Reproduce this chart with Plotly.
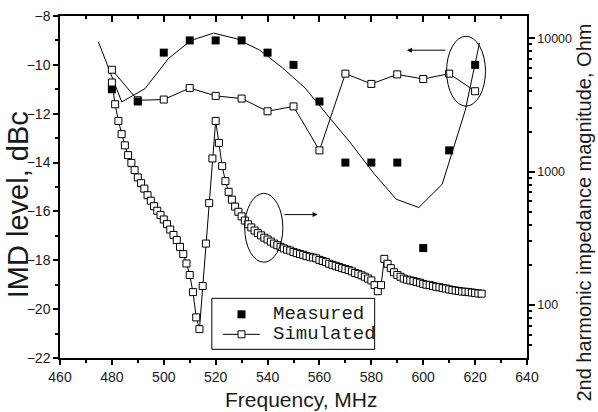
import plotly.graph_objects as go

# ---- data ----
freq_imd = [480, 490, 500, 510, 520, 530, 540, 550, 560, 570, 580, 590, 600, 610, 620]
measured = [-11, -11.5, -9.5, -9, -9, -9, -9.5, -10, -11.5, -14, -14, -14, -17.5, -13.5, -10]
simulated = [-10.2, -11.45, -11.42, -10.95, -11.27, -11.38, -11.9, -11.7, -13.5,
             -10.36, -10.78, -10.39, -10.58, -10.36, -11.08]

curve_freq = [474.8, 483.8, 492.8, 501.8, 510.5, 519.2, 528, 537, 545.5, 554.5,
              563, 572, 581, 589.6, 598.3, 607.3, 616.2, 621.7]
curve_val = [-9.06, -11.52, -10.97, -9.74, -9.0, -8.70, -8.93, -9.40, -10.1, -10.95,
             -12.05, -13.2, -14.45, -15.5, -15.84, -14.89, -11.86, -9.1]

imp_freq = [480, 481.25, 482.5, 483.75, 485, 486.25, 487.5, 488.75, 490, 491.25,
            492.5, 493.75, 495, 496.25, 497.5, 498.75, 500, 501.25, 502.5, 503.75,
            505, 506.25, 507.5, 508.75, 510, 511.25, 512.5, 513.75, 515, 516.25,
            517.5, 518.75, 520, 521.25, 522.5, 523.75, 525, 526.25, 527.5, 528.75,
            530, 531.25, 532.5, 533.75, 535, 536.25, 537.5, 538.75, 540, 541.25,
            542.5, 543.75, 545, 546.25, 547.5, 548.75, 550, 551.25, 552.5, 553.75,
            555, 556.25, 557.5, 558.75, 560, 561.25, 562.5, 563.75, 565, 566.25,
            567.5, 568.75, 570, 571.25, 572.5, 573.75, 575, 576.25, 577.5, 578.75,
            580, 581.25, 582.5, 583.75, 585, 586.25, 587.5, 588.75, 590, 591.25,
            592.5, 593.75, 595, 596.25, 597.5, 598.75, 600, 601.25, 602.5, 603.75,
            605, 606.25, 607.5, 608.75, 610, 611.25, 612.5, 613.75, 615, 616.25,
            617.5, 618.75, 620, 621.25, 622.5]
imp_val = [4660, 3200, 2400, 1910, 1575, 1330, 1164, 1027, 905, 820,
           746, 666, 606, 551, 509, 473, 438, 404, 368, 335,
           307, 273, 241, 205, 168, 125, 80.8, 66, 139, 289,
           581, 1256, 2400, 1643, 1100, 849, 706, 617, 547, 500,
           462, 430, 403, 382, 362, 346, 333, 320, 310, 299,
           289, 281, 273, 266, 260, 256, 250, 245, 241, 238,
           233, 230, 227, 224, 218, 214, 210, 204, 200, 197,
           193, 189, 186, 183, 179, 174, 171, 167, 163, 158,
           153, 141, 127, 141, 222, 204, 189, 176, 168, 163,
           158, 155, 153, 151, 149, 147, 144, 142, 141, 139,
           137, 136, 134, 133, 131, 129.5, 128.5, 127.4, 126.3, 125.8,
           125, 124.1, 123.2, 122.1, 121.7]

x_ticks = [460, 480, 500, 520, 540, 560, 580, 600, 620, 640]
y_ticks = [-22, -20, -18, -16, -14, -12, -10, -8]
y2_ticks = [100, 1000, 10000]
y2_ticktext = ["100", "1000", "10000"]
y2_minor = [50, 60, 70, 80, 90, 200, 300, 400, 500, 600, 700, 800, 900,
            2000, 3000, 4000, 5000, 6000, 7000, 8000, 9000]

INK = "#1a1a1a"
SANS = "Liberation Sans, Arial, sans-serif"
MONO = "Liberation Mono, Courier New, monospace"

fig = go.Figure()

fig.add_trace(go.Scatter(x=curve_freq, y=curve_val, mode="lines",
                         line=dict(color="black", width=1), showlegend=False,
                         hoverinfo="skip"))
fig.add_trace(go.Scatter(x=freq_imd, y=simulated, mode="lines+markers", name="Simulated",
                         line=dict(color="black", width=1),
                         marker=dict(symbol="square", size=7, color="white",
                                     line=dict(color="black", width=1)),
                         showlegend=False))
fig.add_trace(go.Scatter(x=freq_imd, y=measured, mode="markers", name="Measured",
                         marker=dict(symbol="square", size=8, color="black"),
                         showlegend=False))
fig.add_trace(go.Scatter(x=imp_freq, y=imp_val, mode="lines+markers", yaxis="y2",
                         name="Impedance",
                         line=dict(color="black", width=1),
                         marker=dict(symbol="square", size=7, color="white",
                                     line=dict(color="black", width=1)),
                         showlegend=False))
# helper trace so the top mirrored axis is drawn
fig.add_trace(go.Scatter(x=[None], y=[None], xaxis="x2", yaxis="y",
                         showlegend=False, hoverinfo="skip"))

axis_common = dict(showgrid=False, zeroline=False, showline=True, linecolor="black",
                   linewidth=1.5, tickcolor="black", tickwidth=1.5, automargin=False,
                   tickfont=dict(family=SANS, size=14, color=INK))

fig.update_layout(
    template="none",
    width=598, height=412,
    margin=dict(l=60, r=71, t=16, b=54, pad=0),
    paper_bgcolor="white", plot_bgcolor="white",
    showlegend=False,
    xaxis=dict(range=[460, 640], tickmode="array", tickvals=x_ticks,
               ticks="outside", ticklen=5,
               minor=dict(ticks="outside", ticklen=3, dtick=10, tick0=460,
                          tickcolor="black", tickwidth=1.5),
               **axis_common),
    xaxis2=dict(range=[460, 640], overlaying="x", side="top", anchor="y",
                tickmode="array", tickvals=x_ticks, ticks="inside", ticklen=6,
                minor=dict(ticks="inside", ticklen=3, dtick=10, tick0=460,
                           tickcolor="black", tickwidth=1.5),
                showticklabels=False, **axis_common),
    yaxis=dict(range=[-22, -8], tickmode="array", tickvals=y_ticks,
               ticks="outside", ticklen=5,
               minor=dict(ticks="outside", ticklen=3, dtick=1, tick0=-22,
                          tickcolor="black", tickwidth=1.5),
               **axis_common),
    yaxis2=dict(type="log", range=[1.603, 4.167], overlaying="y", side="right",
                anchor="x", tickmode="array", tickvals=y2_ticks, ticktext=y2_ticktext,
                ticks="outside", ticklen=6,
                minor=dict(ticks="outside", ticklen=3, tickmode="array", tickvals=y2_minor,
                           tickcolor="black", tickwidth=1.5),
                showgrid=False, zeroline=False, showline=True, linecolor="black",
                linewidth=1.5, tickcolor="black", tickwidth=1.5, automargin=False,
                tickfont=dict(family=SANS, size=12.5, color=INK)),
)

# axis titles
fig.add_annotation(text="Frequency, MHz", xref="paper", yref="paper", x=0.5166, y=-0.1227,
                   showarrow=False, font=dict(family=SANS, size=21, color=INK),
                   xanchor="center", yanchor="middle")
fig.add_annotation(text="IMD level, dBc", xref="paper", yref="paper", x=-0.0898, y=0.447,
                   showarrow=False, textangle=-90, font=dict(family=SANS, size=29, color=INK),
                   xanchor="center", yanchor="middle")
fig.add_annotation(text="2nd harmonic impedance magnitude, Ohm", xref="paper", yref="paper",
                   x=1.123, y=0.4265, showarrow=False, textangle=-90,
                   font=dict(family=SANS, size=20, color=INK),
                   xanchor="center", yanchor="middle")

# legend box (drawn as in the original figure)
fig.add_shape(type="rect", xref="paper", yref="paper", x0=0.3251, x1=0.6738,
              y0=0.0254, y1=0.1744, line=dict(color="black", width=1), fillcolor="white",
              layer="above")
fig.add_shape(type="rect", xref="paper", yref="paper", x0=0.3801, x1=0.3972,
              y0=0.1160, y1=0.1394, line=dict(color="black", width=0), fillcolor="black",
              layer="above")
fig.add_shape(type="line", xref="paper", yref="paper", x0=0.3487, x1=0.4278,
              y0=0.0692, y1=0.0692, line=dict(color="black", width=1), layer="above")
fig.add_shape(type="rect", xref="paper", yref="paper", x0=0.3812, x1=0.3961,
              y0=0.0590, y1=0.0795, line=dict(color="black", width=1), fillcolor="white",
              layer="above")
fig.add_annotation(text="Measured", xref="paper", yref="paper", x=0.4528, y=0.1277,
                   showarrow=False, xanchor="left", yanchor="middle",
                   font=dict(family=MONO, size=19, color=INK))
fig.add_annotation(text="Simulated", xref="paper", yref="paper", x=0.4528, y=0.0692,
                   showarrow=False, xanchor="left", yanchor="middle",
                   font=dict(family=MONO, size=19, color=INK))

# ellipses and arrows
fig.add_shape(type="circle", xref="x", yref="y", x0=531.2, x1=545.9, y0=-18.08, y1=-15.26,
              line=dict(color="black", width=1))
fig.add_shape(type="circle", xref="x", yref="y", x0=609.0, x1=624.0, y0=-11.69, y1=-8.83,
              line=dict(color="black", width=1))
fig.add_annotation(x=559.3, y=-16.13, ax=545.9, ay=-16.13, xref="x", yref="y",
                   axref="x", ayref="y", text="", showarrow=True, arrowhead=2,
                   arrowsize=1, arrowwidth=1, arrowcolor="black")
fig.add_annotation(x=593.7, y=-9.40, ax=609.1, ay=-9.40, xref="x", yref="y",
                   axref="x", ayref="y", text="", showarrow=True, arrowhead=2,
                   arrowsize=1, arrowwidth=1, arrowcolor="black")

fig.write_html("out.html", config={"displayModeBar": False},
               post_script="document.body.style.margin='0';")
